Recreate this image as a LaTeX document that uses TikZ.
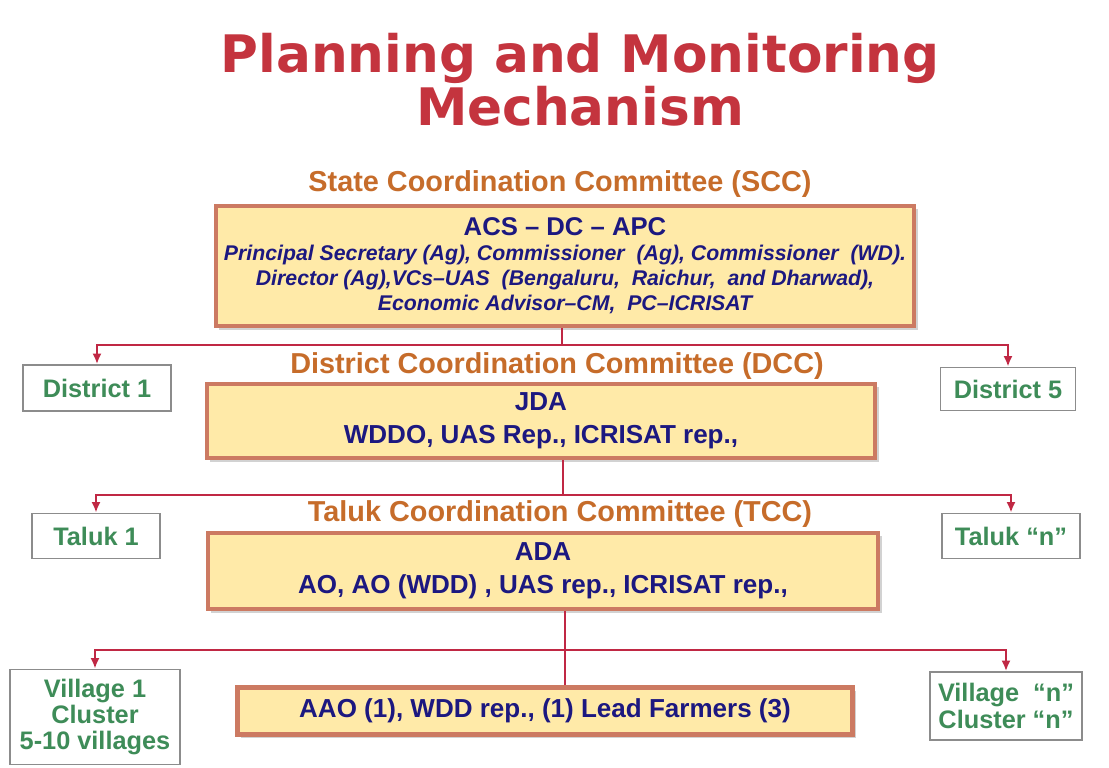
\documentclass[tikz,border=0pt]{standalone}
\usepackage{fontspec}
\setmainfont{Liberation Sans}
\newfontfamily\titlefont{DejaVu Sans}
\usetikzlibrary{arrows.meta,shadows}

\definecolor{titlered}{RGB}{196,52,62}
\definecolor{headorange}{RGB}{198,108,42}
\definecolor{navytext}{RGB}{28,24,128}
\definecolor{unitgreen}{RGB}{62,140,88}
\definecolor{boxfill}{RGB}{255,234,168}
\definecolor{boxedge}{RGB}{204,122,98}
\definecolor{linkred}{RGB}{192,40,68}

\begin{document}
\begin{tikzpicture}[x=0.01cm,y=-0.01cm,
    heading/.style={text=headorange,font=\bfseries\fontsize{8.2}{9}\selectfont,inner sep=0pt},
    commbox/.style={draw=boxedge,line width=1.3pt,fill=boxfill,
      drop shadow={shadow xshift=1pt,shadow yshift=-1pt,fill=black!35},
      text=navytext,align=center,inner sep=0pt,
      font=\bfseries\fontsize{7.4}{9.4}\selectfont},
    unitbox/.style={draw=black!45,line width=0.5pt,fill=white,text=unitgreen,
      align=center,inner sep=0pt,font=\bfseries\fontsize{7.2}{7.5}\selectfont},
    link/.style={draw=linkred,line width=0.8pt},
    tolink/.style={link,-{Latex[length=3pt,width=2.6pt]}}]
  \useasboundingbox (0,0) rectangle (1109,768);

  % title
  \node[anchor=base,text=titlered,align=center,inner sep=0pt,
    font=\titlefont\bfseries\fontsize{14.7}{11.4}\selectfont] (title) at (580,126)
    {Planning and Monitoring\\Mechanism};

  % state level
  \node[heading] (scchead) at (560,184) {State Coordination Committee (SCC)};
  \node[commbox,minimum width=6.98cm,minimum height=1.20cm,
    font=\bfseries\itshape\fontsize{6.05}{7.1}\selectfont] (scc) at (565,266)
    {{\upshape\fontsize{7.3}{7.1}\selectfont ACS \textendash{} DC \textendash{} APC}\\
     Principal Secretary (Ag), Commissioner\ \ (Ag), Commissioner\ \ (WD).\\
     Director (Ag),VCs\textendash UAS\ \ (Bengaluru,\ \ Raichur,\ \ and Dharwad),\\
     Economic Advisor\textendash CM,\ \ PC\textendash ICRISAT};

  \node[unitbox,minimum width=1.48cm,minimum height=0.46cm] (dist1) at (97,388) {District 1};
  \node[unitbox,minimum width=1.35cm,minimum height=0.43cm] (dist5) at (1008,389) {District 5};

  % district level
  \node[heading] (dcchead) at (557,366) {District Coordination Committee (DCC)};
  \node[commbox,minimum width=6.68cm,minimum height=0.74cm] (dcc) at (541,421)
    {JDA\\WDDO, UAS Rep., ICRISAT rep.,};

  \node[unitbox,minimum width=1.28cm,minimum height=0.45cm] (taluk1) at (96,536) {Taluk 1};
  \node[unitbox,minimum width=1.38cm,minimum height=0.45cm] (talukn) at (1011,536) {Taluk \textquotedblleft n\textquotedblright};

  % taluk level
  \node[heading] (tcchead) at (560,514) {Taluk Coordination Committee (TCC)};
  \node[commbox,minimum width=6.70cm,minimum height=0.76cm] (tcc) at (543,571)
    {ADA\\AO, AO (WDD) , UAS rep., ICRISAT rep.,};

  % village level
  \node[unitbox,minimum width=1.70cm,minimum height=0.95cm,
    font=\bfseries\fontsize{7.2}{7.4}\selectfont] (vill1) at (95,717) {Village 1\\Cluster\\5-10 villages};
  \node[unitbox,minimum width=1.52cm,minimum height=0.68cm] (villn) at (1006,706)
    {Village\ \ \textquotedblleft n\textquotedblright\\Cluster \textquotedblleft n\textquotedblright};
  \node[commbox,minimum width=6.15cm,minimum height=0.47cm] (aao) at (545,711)
    {AAO (1), WDD rep., (1) Lead Farmers (3)};

  % connectors
  \coordinate (sccfork) at (562,345);
  \coordinate (dccfork) at (563,495);
  \coordinate (tccfork) at (565,650);

  \draw[link] (scc.south -| sccfork) -- (sccfork);
  \draw[tolink] (sccfork) -| (dist1.north);
  \draw[tolink] (sccfork) -| (dist5.north);

  \draw[link] (dcc.south -| dccfork) -- (dccfork);
  \draw[tolink] (dccfork) -| (taluk1.north);
  \draw[tolink] (dccfork) -| (talukn.north);

  \draw[link] (tcc.south -| tccfork) -- (aao.north -| tccfork);
  \draw[tolink] (tccfork) -| (vill1.north);
  \draw[tolink] (tccfork) -| (villn.north);
\end{tikzpicture}
\end{document}
